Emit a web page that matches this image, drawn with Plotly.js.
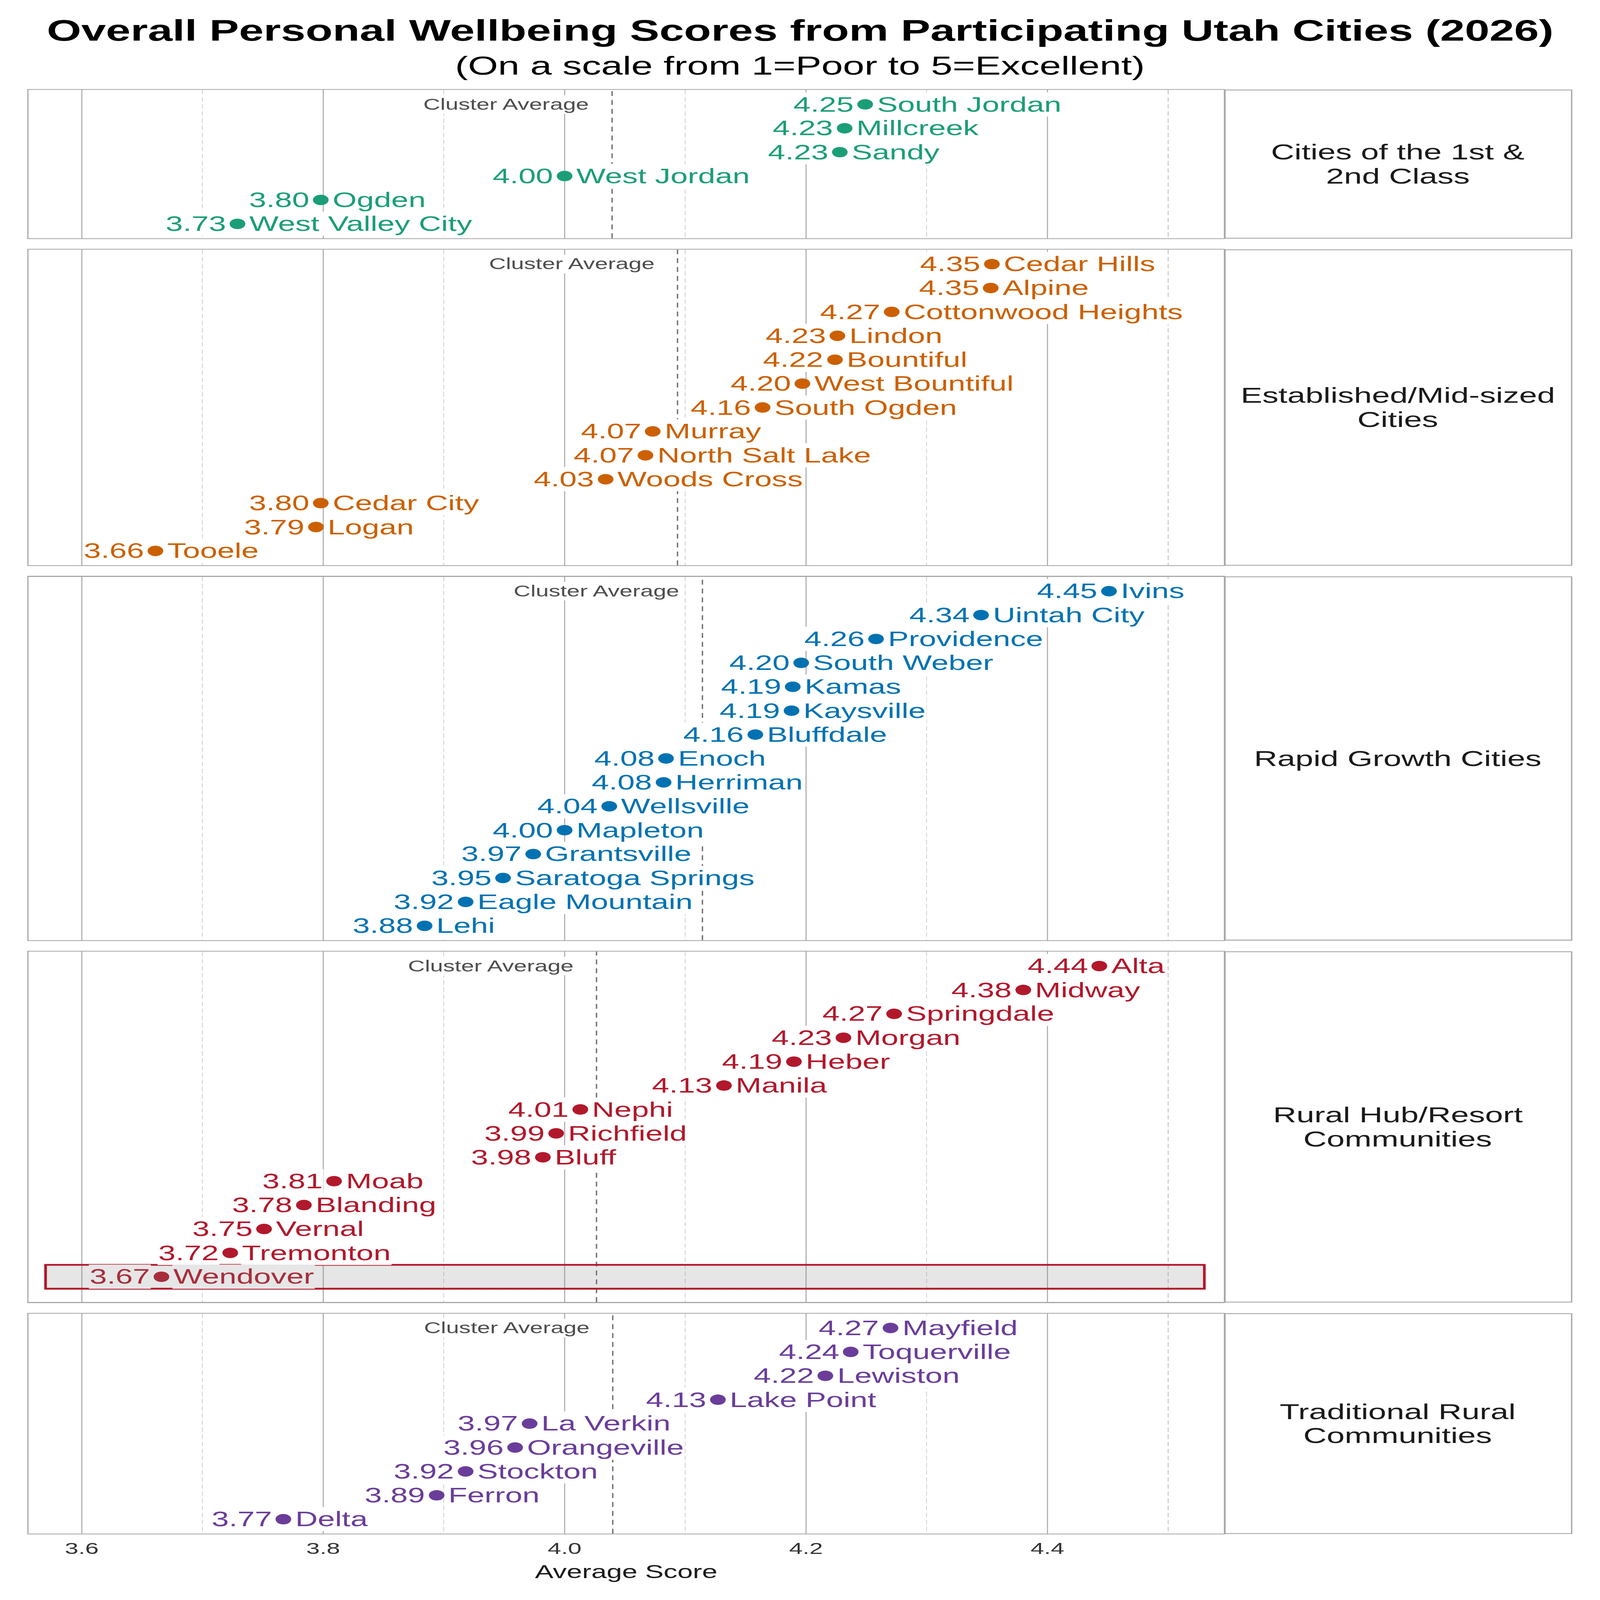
<!DOCTYPE html>
<html>
<head>
<meta charset="utf-8">
<script src="https://cdn.plot.ly/plotly-3.0.1.min.js"></script>
<style>
  html, body { margin: 0; padding: 0; background: #fff; overflow: hidden; }
  #plot { width: 4800px; height: 7200px; transform-origin: 0 0; }
</style>
</head>
<body>
<div id="plot"></div>
<script>
"use strict";

// ── Data ──
const clusterNames = [
    "Cities of the 1st &\n2nd Class",
    "Established/Mid-sized\nCities",
    "Rapid Growth Cities",
    "Rural Hub/Resort\nCommunities",
    "Traditional Rural\nCommunities",
];
const clusterColors = ["#1b9e77", "#cc6000", "#0072b2", "#b2182b", "#6a3d9a"];

const firstClassCities = ["South Jordan", "Millcreek", "Sandy", "West Jordan", "Ogden", "West Valley City"];
const firstClassScores = [4.249, 4.232, 4.228, 4.000, 3.798, 3.729];

const establishedCities = ["Cedar Hills", "Alpine", "Cottonwood Heights", "Lindon", "Bountiful",
    "West Bountiful", "South Ogden", "Murray", "North Salt Lake", "Woods Cross",
    "Cedar City", "Logan", "Tooele"];
const establishedScores = [4.354, 4.353, 4.271, 4.226, 4.224, 4.197, 4.164, 4.073, 4.067, 4.034,
    3.798, 3.794, 3.661];

const rapidCities = ["Ivins", "Uintah City", "Providence", "South Weber", "Kamas", "Kaysville",
    "Bluffdale", "Enoch", "Herriman", "Wellsville", "Mapleton", "Grantsville",
    "Saratoga Springs", "Eagle Mountain", "Lehi"];
const rapidScores = [4.451, 4.345, 4.258, 4.196, 4.189, 4.188, 4.158, 4.084, 4.082, 4.037,
    4.000, 3.974, 3.949, 3.918, 3.884];

const ruralHubCities = ["Alta", "Midway", "Springdale", "Morgan", "Heber", "Manila", "Nephi",
    "Richfield", "Bluff", "Moab", "Blanding", "Vernal", "Tremonton", "Wendover"];
const ruralHubScores = [4.443, 4.380, 4.273, 4.231, 4.190, 4.132, 4.013, 3.993, 3.982, 3.809,
    3.784, 3.751, 3.723, 3.666];

const traditionalCities = ["Mayfield", "Toquerville", "Lewiston", "Lake Point", "La Verkin",
    "Orangeville", "Stockton", "Ferron", "Delta"];
const traditionalScores = [4.270, 4.237, 4.216, 4.127, 3.971, 3.959, 3.918, 3.894, 3.767];

const highlightCity = "Wendover";

const xTicks = [3.6, 3.8, 4.0, 4.2, 4.4];

const clusterCities = [firstClassCities, establishedCities, rapidCities, ruralHubCities, traditionalCities];
const clusterScores = [firstClassScores, establishedScores, rapidScores, ruralHubScores, traditionalScores];

// ── Geometry (px on the 4800×7200 design canvas) ──
const W = 4800, H = 7200;
const M = { l: 86, r: 85, t: 405, b: 299 };
const PLOT_W = W - M.l - M.r, PLOT_H = H - M.t - M.b;
const X_END = (3671 - M.l) / PLOT_W;        // facet strip to the right
const GAP_PX = 52;
const X_RANGE = [3.556, 4.546];
const MARK = 47;
const FONT = "'Liberation Sans', Arial, Helvetica, sans-serif";
const GRID = "#b3b3b3", FRAME = "#a8a8a8";

function blend(hex, a, grey) {
    const c = [1, 3, 5].map(i => parseInt(hex.slice(i, i + 2), 16));
    return "#" + c.map(v => Math.round(v * (1 - a) + grey * a)
        .toString(16).padStart(2, "0")).join("");
}
// pixel row on the canvas -> paper y
const paperY = py => (H - M.b - py) / PLOT_H;

// panel heights in "rows": 0.6 row padding top/bottom, more under a highlight
const spans = clusterCities.map(c =>
    (c.length - 1) + 0.6 + (c.includes(highlightCity) ? 1.06 : 0.6));
const unit = (PLOT_H - GAP_PX * (spans.length - 1)) / spans.reduce((a, b) => a + b, 0);

const traces = [], shapes = [], annotations = [];
const layout = {
    width: W, height: H,
    margin: { l: M.l, r: M.r, t: M.t, b: M.b, pad: 0, autoexpand: false },
    paper_bgcolor: "#fff", plot_bgcolor: "#fff",
    font: { family: FONT, color: "#1a1a1a" },
    showlegend: false,
};

let cursor = 1;
clusterCities.forEach((cities, i) => {
    const scores = clusterScores[i];
    const color = clusterColors[i];
    const n = cities.length;
    const sfx = i === 0 ? "" : String(i + 1);
    const xa = "x" + sfx, ya = "y" + sfx;
    const dom = [cursor - spans[i] * unit / PLOT_H, cursor];
    cursor = dom[0] - GAP_PX / PLOT_H;
    const hasHi = cities.includes(highlightCity);
    const isLast = i === clusterCities.length - 1;

    layout["xaxis" + sfx] = {
        domain: [0, X_END], anchor: ya, range: X_RANGE,
        tickvals: xTicks, ticktext: xTicks.map(v => v.toFixed(1)),
        showticklabels: isLast, ticks: "",
        tickfont: { size: 73, color: "#333" },
        showgrid: true, gridcolor: GRID, gridwidth: 3,
        minor: { tickvals: [3.7, 3.9, 4.1, 4.3, 4.5], showgrid: true,
                 gridcolor: "#cfcfcf", gridwidth: 2.5, griddash: "20px,12px" },
        zeroline: false,
        showline: true, mirror: true, linecolor: FRAME, linewidth: 4,
        title: isLast ? { text: "Average Score", font: { size: 83, color: "#1a1a1a" }, standoff: 38 }
                      : { text: "" },
    };
    layout["yaxis" + sfx] = {
        domain: dom, anchor: xa,
        range: [(n - 1) + (hasHi ? 1.06 : 0.6), -0.6],
        showgrid: false, zeroline: false, showticklabels: false, ticks: "",
        showline: true, mirror: true, linecolor: FRAME, linewidth: 4,
    };

    traces.push({
        type: "scatter", mode: "markers",
        x: scores, y: cities.map((_, j) => j),
        xaxis: xa, yaxis: ya,
        marker: { size: MARK, color: color },
        hoverinfo: "skip",
    });

    // cluster average line + caption
    const avg = scores.reduce((a, b) => a + b, 0) / n;
    shapes.push({
        type: "line", xref: xa, yref: ya + " domain",
        x0: avg, x1: avg, y0: 0, y1: 1,
        line: { color: "#6e6e6e", width: 4, dash: "22px,18px" }, layer: "above",
    });
    annotations.push({
        xref: xa, yref: ya, x: avg, y: 0, xanchor: "right", yanchor: "middle",
        xshift: -66, text: "Cluster Average", showarrow: false,
        bgcolor: "#fff", borderpad: 2,
        font: { size: 70, color: "#4d4d4d" },
    });

    // value / name labels
    cities.forEach((c, j) => {
        const hi = c === highlightCity;
        const fc = hi ? blend(color, 0.2, 128) : color;
        const bg = hi ? "#e6e6e6" : "#fff";
        annotations.push({
            xref: xa, yref: ya, x: scores[j], y: j, xanchor: "right", yanchor: "middle",
            xshift: -(MARK / 2 + 8), text: scores[j].toFixed(2), showarrow: false,
            bgcolor: bg, borderpad: 2, font: { size: 93, color: fc },
        });
        annotations.push({
            xref: xa, yref: ya, x: scores[j], y: j, xanchor: "left", yanchor: "middle",
            xshift: (MARK / 2 + 9), text: c, showarrow: false,
            bgcolor: bg, borderpad: 2, font: { size: 93, color: fc },
        });
        if (hi) {
            shapes.push({
                type: "rect", xref: xa, yref: ya,
                x0: 3.57, x1: 4.53, y0: j - 0.5, y1: j + 0.5,
                fillcolor: "rgba(128,128,128,0.2)",
                line: { color: color, width: 8 }, layer: "above",
            });
        }
    });

    // facet strip on the right
    shapes.push({
        type: "rect", xref: "paper", yref: "paper",
        x0: X_END + 4 / PLOT_W, x1: 1, y0: dom[0], y1: dom[1],
        line: { color: FRAME, width: 4 }, fillcolor: "rgba(0,0,0,0)", layer: "above",
    });
    const lines = clusterNames[i].split("\n");
    const mid = (dom[0] + dom[1]) / 2;
    lines.forEach((t, k) => {
        annotations.push({
            xref: "paper", yref: "paper",
            x: (X_END + 1) / 2, y: mid, xanchor: "center", yanchor: "middle",
            yshift: ((lines.length - 1) / 2 - k) * 108,
            text: t, showarrow: false,
            font: { size: 97, color: "#1a1a1a" },
        });
    });
});

// titles
annotations.push({
    xref: "paper", yref: "paper", x: (W / 2 - M.l) / PLOT_W, y: paperY(136),
    xanchor: "center", yanchor: "middle", showarrow: false,
    text: "<b>Overall Personal Wellbeing Scores from Participating Utah Cities (2026)</b>",
    font: { size: 133, color: "#000" },
});
annotations.push({
    xref: "paper", yref: "paper", x: (W / 2 - M.l) / PLOT_W, y: paperY(295),
    xanchor: "center", yanchor: "middle", showarrow: false,
    text: "(On a scale from 1=Poor to 5=Excellent)",
    font: { size: 116, color: "#000" },
});

layout.shapes = shapes;
layout.annotations = annotations;

const el = document.getElementById("plot");
Plotly.newPlot(el, traces, layout, { displayModeBar: false, staticPlot: true }).then(() => {
    // the window can be smaller than the 4800×7200 canvas: fit the drawing to it
    const sx = window.innerWidth / W, sy = window.innerHeight / H;
    if (sx < 1 || sy < 1) el.style.transform = `scale(${Math.min(sx, 1)}, ${Math.min(sy, 1)})`;
});
</script>
</body>
</html>
